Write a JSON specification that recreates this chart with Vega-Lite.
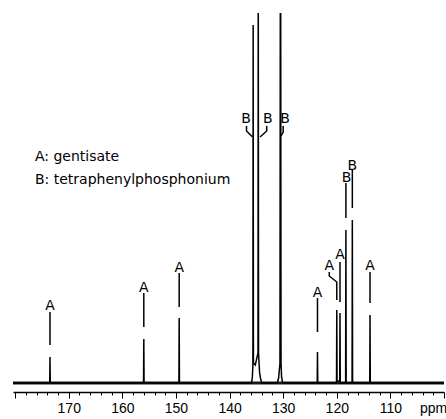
{
  "$schema": "https://vega.github.io/schema/vega-lite/v6.json",
  "width": 431,
  "height": 379,
  "autosize": "none",
  "padding": {"left": 13, "top": 13, "right": 2, "bottom": 27},
  "background": "white",
  "config": {"view": {"stroke": null}},
  "datasets": {
    "spectrum": [
      {"ppm": 180.4, "v": 0},
      {"ppm": 173.55, "v": 0}, {"ppm": 173.5, "v": 26}, {"ppm": 173.45, "v": 0},
      {"ppm": 156.05, "v": 0}, {"ppm": 156.0, "v": 44}, {"ppm": 155.95, "v": 0},
      {"ppm": 149.45, "v": 0}, {"ppm": 149.4, "v": 65}, {"ppm": 149.35, "v": 0},
      {"ppm": 135.9, "v": 0}, {"ppm": 135.75, "v": 6}, {"ppm": 135.65, "v": 18}, {"ppm": 135.6, "v": 358}, {"ppm": 135.55, "v": 20},
      {"ppm": 135.2, "v": 18}, {"ppm": 134.7, "v": 30}, {"ppm": 134.65, "v": 420}, {"ppm": 134.6, "v": 30},
      {"ppm": 134.4, "v": 10}, {"ppm": 134.2, "v": 4}, {"ppm": 134.0, "v": 0},
      {"ppm": 131.1, "v": 0}, {"ppm": 130.85, "v": 5}, {"ppm": 130.6, "v": 20}, {"ppm": 130.53, "v": 420}, {"ppm": 130.47, "v": 420}, {"ppm": 130.4, "v": 20},
      {"ppm": 130.3, "v": 6}, {"ppm": 130.1, "v": 0},
      {"ppm": 123.65, "v": 0}, {"ppm": 123.6, "v": 31}, {"ppm": 123.55, "v": 0},
      {"ppm": 120.05, "v": 0}, {"ppm": 120.0, "v": 73}, {"ppm": 119.95, "v": 2},
      {"ppm": 119.45, "v": 2}, {"ppm": 119.4, "v": 70}, {"ppm": 119.35, "v": 0},
      {"ppm": 118.35, "v": 0}, {"ppm": 118.3, "v": 153}, {"ppm": 118.25, "v": 0},
      {"ppm": 117.15, "v": 0}, {"ppm": 117.1, "v": 163}, {"ppm": 117.05, "v": 0},
      {"ppm": 113.85, "v": 0}, {"ppm": 113.8, "v": 68}, {"ppm": 113.75, "v": 0},
      {"ppm": 100.0, "v": 0}
    ],
    "leaders": [
      {"id": 1, "o": 0, "ppm": 173.5, "v": 71}, {"id": 1, "o": 1, "ppm": 173.5, "v": 38},
      {"id": 2, "o": 0, "ppm": 156.0, "v": 90}, {"id": 2, "o": 1, "ppm": 156.0, "v": 56},
      {"id": 3, "o": 0, "ppm": 149.4, "v": 110}, {"id": 3, "o": 1, "ppm": 149.4, "v": 76},
      {"id": 4, "o": 0, "ppm": 123.6, "v": 85}, {"id": 4, "o": 1, "ppm": 123.6, "v": 51},
      {"id": 5, "o": 0, "ppm": 121.4, "v": 111}, {"id": 5, "o": 1, "ppm": 121.4, "v": 107}, {"id": 5, "o": 2, "ppm": 120.0, "v": 101}, {"id": 5, "o": 3, "ppm": 120.0, "v": 83},
      {"id": 6, "o": 0, "ppm": 119.4, "v": 121}, {"id": 6, "o": 1, "ppm": 119.4, "v": 81},
      {"id": 7, "o": 0, "ppm": 118.3, "v": 200}, {"id": 7, "o": 1, "ppm": 118.3, "v": 165},
      {"id": 8, "o": 0, "ppm": 117.1, "v": 213}, {"id": 8, "o": 1, "ppm": 117.1, "v": 175},
      {"id": 9, "o": 0, "ppm": 113.8, "v": 111}, {"id": 9, "o": 1, "ppm": 113.8, "v": 80},
      {"id": 10, "o": 0, "ppm": 136.84, "v": 257}, {"id": 10, "o": 1, "ppm": 136.84, "v": 252}, {"id": 10, "o": 2, "ppm": 135.7, "v": 246},
      {"id": 11, "o": 0, "ppm": 133.07, "v": 257}, {"id": 11, "o": 1, "ppm": 133.07, "v": 252}, {"id": 11, "o": 2, "ppm": 134.32, "v": 246},
      {"id": 12, "o": 0, "ppm": 130.0, "v": 257}, {"id": 12, "o": 1, "ppm": 130.0, "v": 251}, {"id": 12, "o": 2, "ppm": 130.4, "v": 247}
    ],
    "labels": [
      {"ppm": 173.5, "v": 73, "text": "A"},
      {"ppm": 156.0, "v": 91, "text": "A"},
      {"ppm": 149.4, "v": 111, "text": "A"},
      {"ppm": 123.6, "v": 86, "text": "A"},
      {"ppm": 121.4, "v": 113, "text": "A"},
      {"ppm": 119.4, "v": 124, "text": "A"},
      {"ppm": 118.2, "v": 201, "text": "B"},
      {"ppm": 117.1, "v": 213, "text": "B"},
      {"ppm": 113.8, "v": 113, "text": "A"},
      {"ppm": 136.93, "v": 260, "text": "B"},
      {"ppm": 132.88, "v": 260, "text": "B"},
      {"ppm": 129.65, "v": 260, "text": "B"}
    ],
    "legend": [
      {"ppm": 176.3, "v": 222, "text": "A: gentisate"},
      {"ppm": 176.3, "v": 199.5, "text": "B: tetraphenylphosphonium"}
    ],
    "unit": [
      {"ppm": 101.95, "v": -30, "text": "ppm"}
    ],
    "baseline": [
      {"ppm": 180.4, "b": 100.0, "v": 0}
    ]
  },
  "encoding": {
    "x": {
      "field": "ppm", "type": "quantitative",
      "scale": {"domain": [100, 180.4], "reverse": true, "nice": false, "zero": false},
      "axis": {
        "values": [100,102,104,106,108,110,112,114,116,118,120,122,124,126,128,130,132,134,136,138,140,142,144,146,148,150,152,154,156,158,160,162,164,166,168,170,172,174,176,178,180],
        "labelExpr": "(datum.value % 10 === 0 && datum.value > 100 && datum.value < 180) ? datum.label : ''",
        "tickSize": {"condition": {"test": "datum.value % 10 === 0", "value": 6}, "value": 3},
        "grid": false,
        "title": null,
        "domainColor": "black",
        "domainWidth": 1.3,
        "tickColor": "black",
        "tickWidth": 1,
        "labelColor": "black",
        "labelFont": "Liberation Sans",
        "labelFontSize": 14,
        "labelPadding": 3,
        "labelFlush": false,
        "labelOverlap": false,
        "orient": "bottom"
      }
    },
    "y": {
      "field": "v", "type": "quantitative",
      "scale": {"domain": [-9, 370], "nice": false, "zero": false},
      "axis": null
    }
  },
  "layer": [
    {
      "data": {"name": "baseline"},
      "mark": {"type": "rule", "color": "#1a1a1a", "strokeWidth": 3.2},
      "encoding": {
        "x2": {"field": "b"}
      }
    },
    {
      "data": {"name": "spectrum"},
      "mark": {"type": "line", "color": "black", "strokeWidth": 1.5, "clip": true},
      "encoding": {}
    },
    {
      "data": {"name": "leaders"},
      "mark": {"type": "line", "color": "black", "strokeWidth": 1.5},
      "encoding": {
        "detail": {"field": "id", "type": "nominal"},
        "order": {"field": "o", "type": "quantitative"}
      }
    },
    {
      "data": {"name": "labels"},
      "mark": {"type": "text", "font": "DejaVu Sans", "fontSize": 14, "align": "center", "baseline": "alphabetic", "color": "black"},
      "encoding": {"text": {"field": "text"}}
    },
    {
      "data": {"name": "legend"},
      "mark": {"type": "text", "font": "DejaVu Sans", "fontSize": 14, "align": "left", "baseline": "alphabetic", "color": "black"},
      "encoding": {"text": {"field": "text"}}
    },
    {
      "data": {"name": "unit"},
      "mark": {"type": "text", "font": "Liberation Sans", "fontSize": 14, "align": "center", "baseline": "alphabetic", "color": "black"},
      "encoding": {"text": {"field": "text"}}
    }
  ]
}
